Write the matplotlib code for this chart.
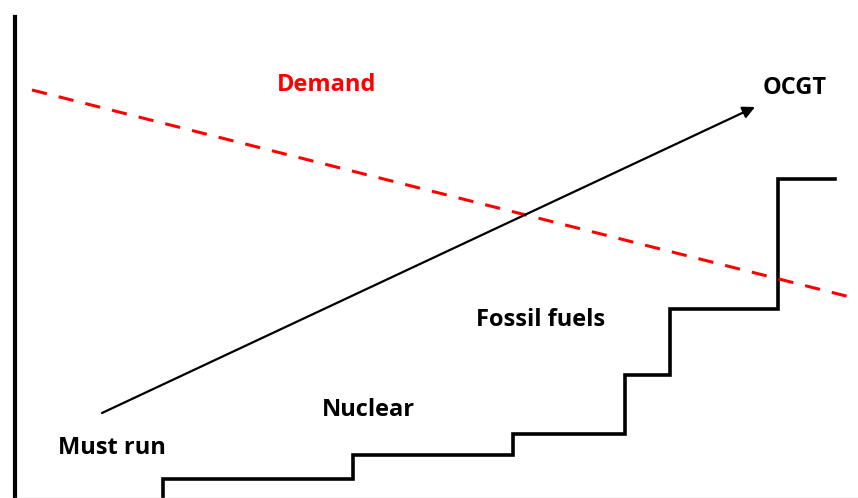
import matplotlib.pyplot as plt

# merit order supply curve (capacity breakpoints, price levels)
supply_x = [148, 148, 338, 498, 610, 655, 763, 820]
supply_y = [0, 19, 43, 64, 123, 189, 319, 319]

# demand line end points
demand_x = [17, 835]
demand_y = [408, 201]

# arrow from must run to OCGT
arrow_start = (87, 85)
arrow_end = (740, 391)

labels = ["Must run", "Nuclear", "Fossil fuels", "OCGT", "Demand"]
label_pos = [(97, 50), (353, 88), (526, 178), (780, 410), (312, 413)]
label_col = ["black", "black", "black", "black", "red"]

plt.rcParams['font.family'] = ['Open Sans', 'DejaVu Sans']

fig = plt.figure(figsize=(8.58, 4.98), dpi=100)
ax = fig.add_axes([15 / 858, 0, 1 - 15 / 858, 481 / 498])
ax.set_xlim(0, 843)
ax.set_ylim(0, 481)

ax.step(supply_x, supply_y, where='post', color='black', lw=2.6, solid_joinstyle='miter')
ax.plot(demand_x, demand_y, color='red', lw=2.2, dashes=(5, 4))
ax.annotate("", xy=arrow_end, xytext=arrow_start,
            arrowprops=dict(arrowstyle='-|>', color='black', lw=1.6,
                            mutation_scale=18, shrinkA=0, shrinkB=0))

for t, (x, y), c in zip(labels, label_pos, label_col):
    ax.text(x, y, t, color=c, fontsize=17, fontweight='bold', ha='center', va='center')

ax.set_xticks([])
ax.set_yticks([])
for s in ['top', 'right']:
    ax.spines[s].set_visible(False)
ax.spines['left'].set_linewidth(3)
ax.spines['bottom'].set_color('#cccccc')
ax.spines['bottom'].set_linewidth(1)

fig.savefig("out.png", dpi=100)
